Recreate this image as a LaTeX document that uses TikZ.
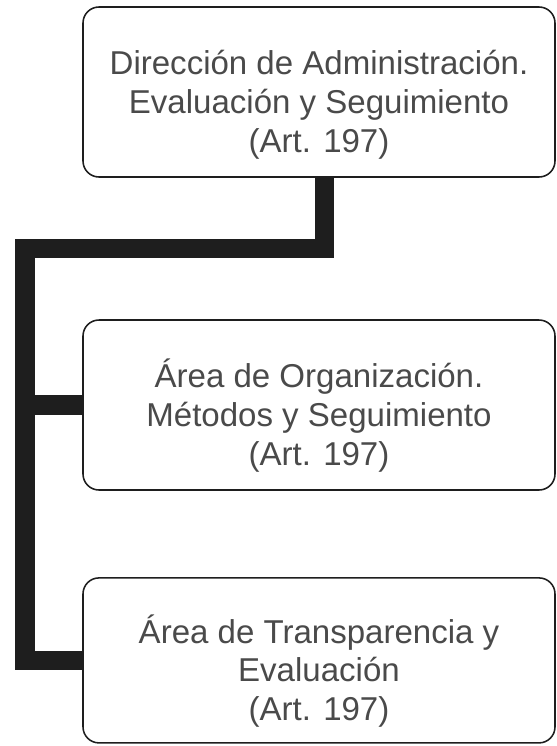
\documentclass[tikz,border=0pt]{standalone}
\usepackage{fontspec}
\setmainfont{Liberation Sans}
\definecolor{texto}{HTML}{4A4A4A}
\definecolor{borde}{HTML}{1E1E1E}
\newcommand{\bajar}{\rule{0pt}{1.25cm}}
\tikzset{
  unidad/.style={draw=borde, line width=1.1pt, rounded corners=0.4cm, fill=white,
    minimum width=11.8cm, align=center, text=texto,
    font=\fontsize{23.5}{27.5}\selectfont},
  enlace/.style={draw=borde, line width=0.49cm, line join=miter}
}
\begin{document}
\begin{tikzpicture}
            \useasboundingbox (0,0) rectangle (13.9,-18.65);

            \node (dir) at (7.975,-2.3) [unidad, minimum height=4.25cm] {\bajar Dirección de Administración.\\Evaluación y Seguimiento\\(Art. 197)};
            \node (org) at (7.975,-10.125) [unidad, minimum height=4.25cm] {\bajar Área de Organización.\\Métodos y Seguimiento\\(Art. 197)};
            \node (tra) at (7.975,-16.51) [unidad, minimum height=4.125cm] {\bajar Área de Transparencia y\\Evaluación\\(Art. 197)};

            \coordinate (codo) at (0.625,-6.21);
            \draw[enlace] ([xshift=0.14cm]dir.south) |- (codo) |- (org.west);
            \draw[enlace] (codo) |- (tra.west);

        \end{tikzpicture}
\end{document}
